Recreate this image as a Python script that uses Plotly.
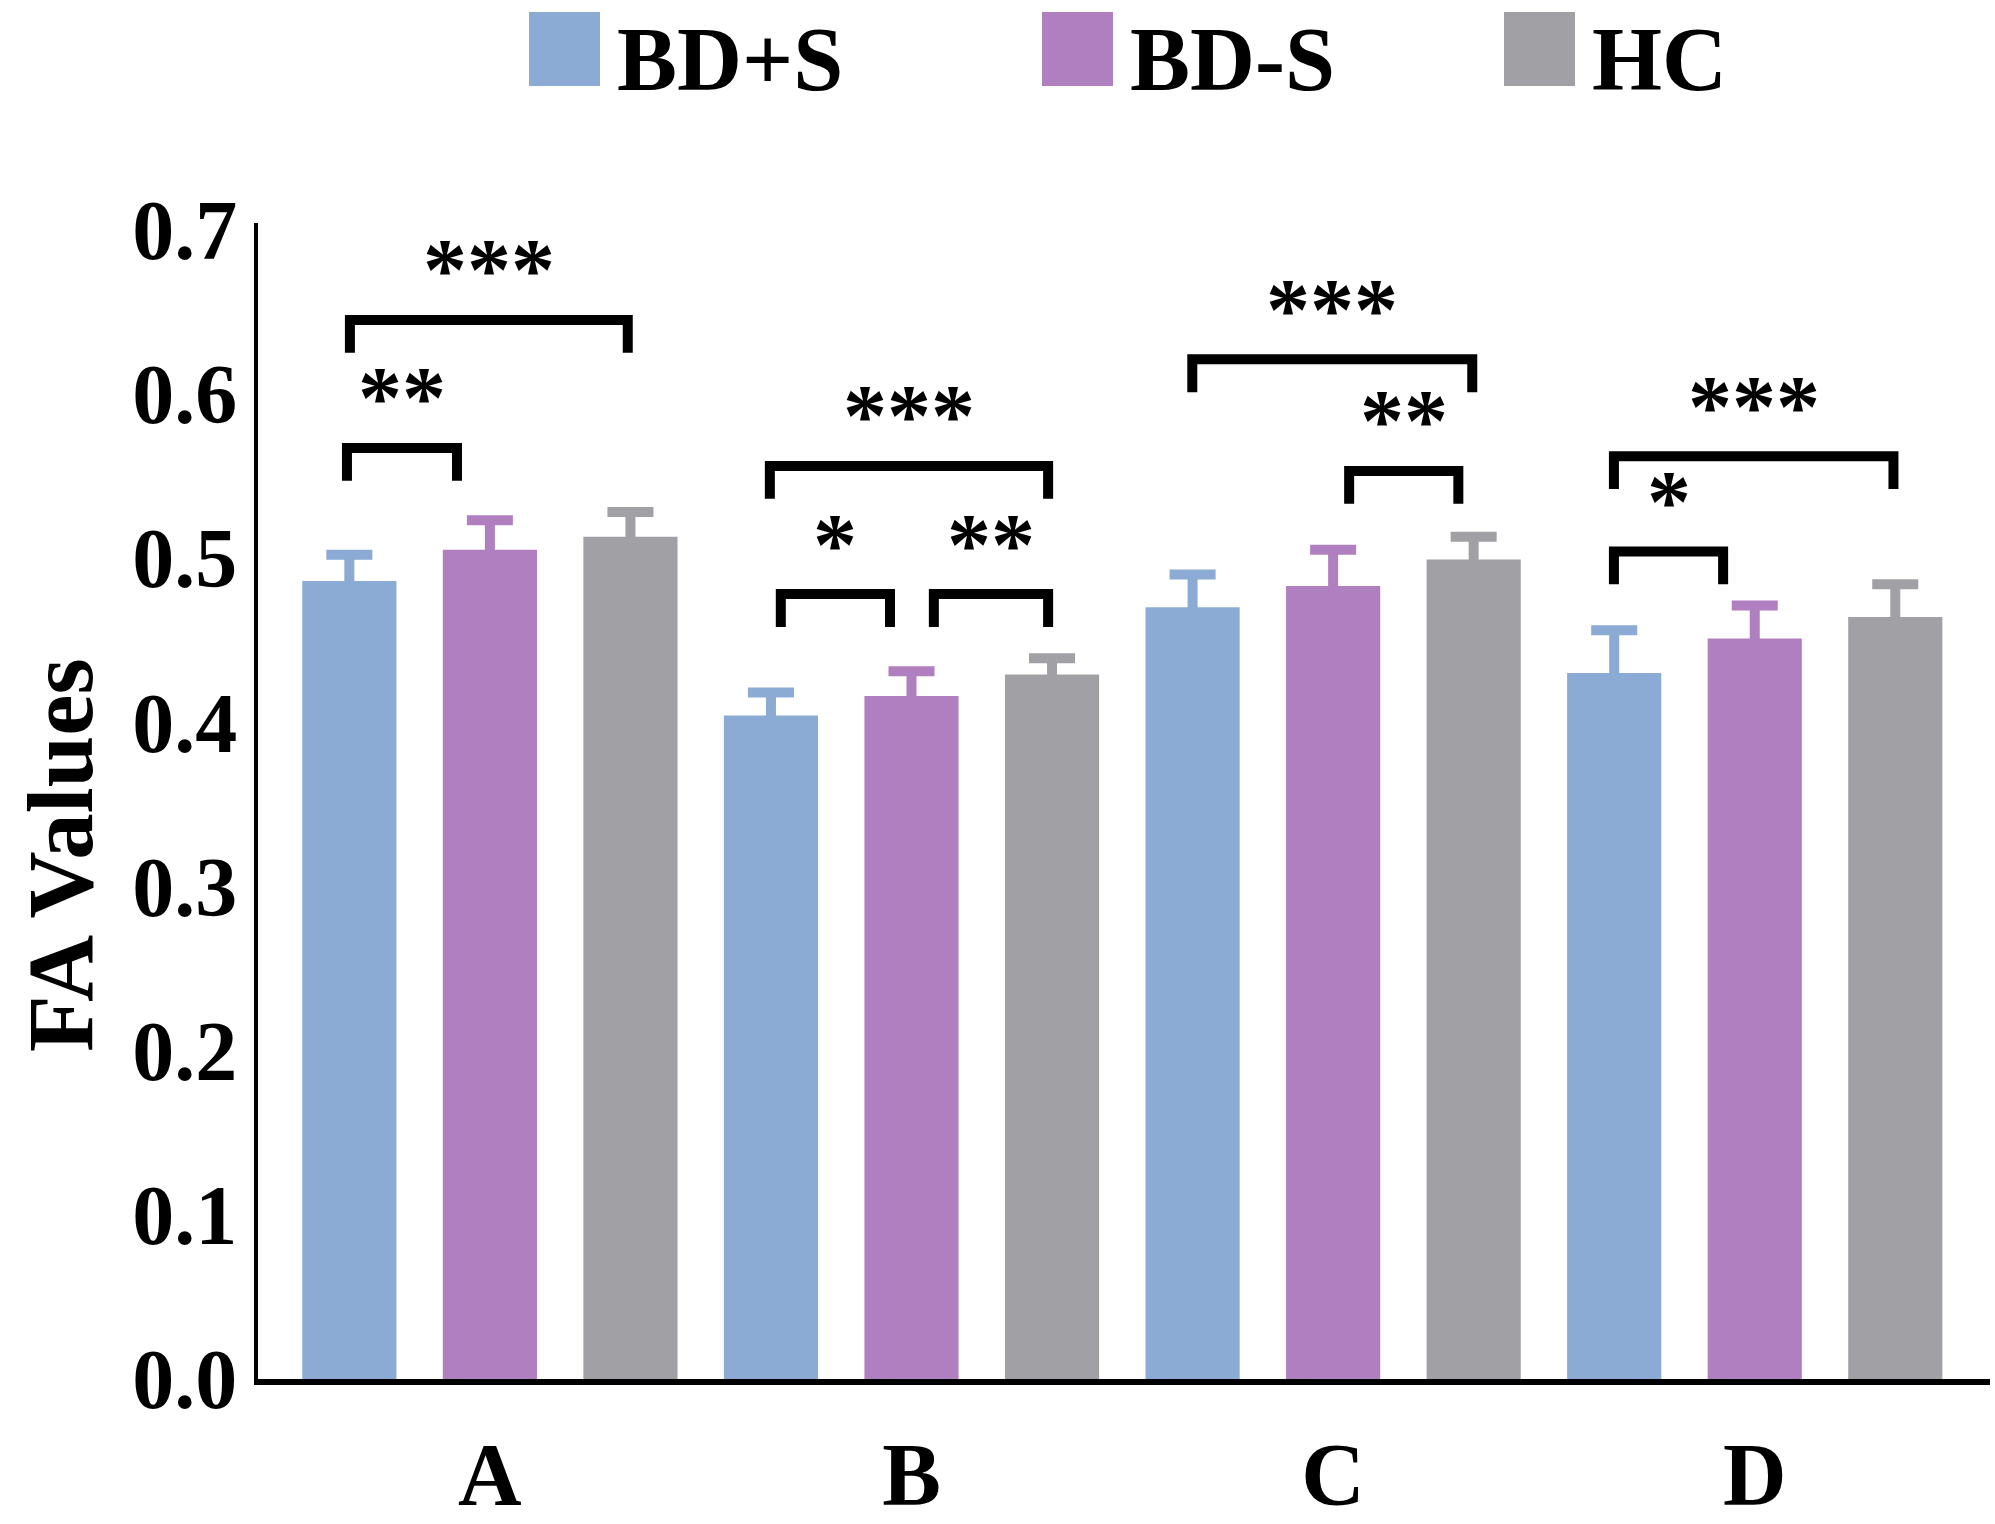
import plotly.graph_objects as go

W, H = 1995, 1524
ML, MR, MT, MB = 258, 5, 223, 145

groups = ["A", "B", "C", "D"]
series = ["BD+S", "BD-S", "HC"]
colors = ["#8BAAD4", "#B07FBF", "#A1A1A5"]

# mean FA values and error per group
bd_plus_s = [0.486, 0.404, 0.470, 0.430]
bd_plus_s_err = [0.016, 0.014, 0.020, 0.026]
bd_minus_s = [0.505, 0.416, 0.483, 0.451]
bd_minus_s_err = [0.018, 0.015, 0.022, 0.020]
hc = [0.513, 0.429, 0.499, 0.464]
hc_err = [0.015, 0.010, 0.014, 0.020]

y_ticks = [0.0, 0.1, 0.2, 0.3, 0.4, 0.5, 0.6, 0.7]

# significance brackets: group index, left end, right end (offset from group centre), height, stars
brackets = [
    (0, -0.339, -0.078, 0.567, "**"),
    (0, -0.332, 0.327, 0.645, "***"),
    (1, -0.336, 0.324, 0.556, "***"),
    (1, -0.310, -0.051, 0.478, "*"),
    (1, 0.053, 0.324, 0.478, "**"),
    (2, -0.334, 0.330, 0.621, "***"),
    (2, 0.038, 0.297, 0.553, "**"),
    (3, -0.334, 0.329, 0.562, "***"),
    (3, -0.334, -0.075, 0.504, "*"),
]
leg_drop = 0.02
star_gap = 0.039

FONT = "Liberation Serif"
xpos = list(range(len(groups)))

values = [bd_plus_s, bd_minus_s, hc]
errors = [bd_plus_s_err, bd_minus_s_err, hc_err]

fig = go.Figure()
for name, vals, errs, col in zip(series, values, errors, colors):
    # symmetric bars: the lower half sits inside the bar in the same colour
    fig.add_trace(go.Bar(
        x=xpos, y=vals, name=name, marker=dict(color=col, line=dict(width=0)),
        error_y=dict(type="data", array=errs, color=col, thickness=10, width=23),
        showlegend=False,
    ))

for g, x0, x1, yt, stars in brackets:
    a, b = g + x0, g + x1
    yb = yt - leg_drop
    fig.add_shape(type="path", xref="x", yref="y",
                  path=f"M {a},{yb} L {a},{yt} L {b},{yt} L {b},{yb}",
                  line=dict(color="black", width=10))
    fig.add_annotation(x=(a + b) / 2, y=yt + star_gap, text=stars, showarrow=False,
                       xanchor="center", yanchor="middle", yshift=-14,
                       font=dict(family=FONT, size=88, color="black", weight="bold"))

# manual legend at the top, positioned in pixels
pw, ph = W - ML - MR, H - MT - MB


def px_x(p):
    return (p - ML) / pw


def px_y(p):
    return (H - MB - p) / ph


legend_swatch_left = [529, 1042, 1504]
for name, col, left in zip(series, colors, legend_swatch_left):
    fig.add_shape(type="rect", xref="paper", yref="paper",
                  x0=px_x(left), x1=px_x(left + 71), y0=px_y(86), y1=px_y(12),
                  fillcolor=col, line=dict(width=0))
    fig.add_annotation(xref="paper", yref="paper", x=px_x(left + 86), y=px_y(59),
                       text=name, showarrow=False, xanchor="left", yanchor="middle",
                       font=dict(family=FONT, size=90, color="black", weight="bold"))

# y axis title, sits a little below the middle of the axis
fig.add_annotation(xref="paper", yref="paper", x=px_x(61), y=px_y(855),
                   text="FA Values", textangle=-90, showarrow=False,
                   xanchor="center", yanchor="middle",
                   font=dict(family=FONT, size=93, color="black", weight="bold"))

fig.update_layout(
    width=W, height=H,
    margin=dict(l=ML, r=MR, t=MT, b=MB),
    plot_bgcolor="white", paper_bgcolor="white",
    barmode="group", bargap=0, bargroupgap=0.33,
    font=dict(family=FONT, color="black"),
)
fig.update_xaxes(
    range=[-0.55, 3.558], tickvals=xpos, ticktext=groups,
    showline=True, linecolor="black", linewidth=6, ticks="",
    showgrid=False, zeroline=False, ticklabelstandoff=13, automargin=False,
    tickfont=dict(family=FONT, size=88, color="black", weight="bold"),
)
fig.update_yaxes(
    range=[0, 0.704], tickvals=y_ticks, tickformat=".1f",
    showline=True, linecolor="black", linewidth=4, ticks="",
    showgrid=False, zeroline=False, ticklabelstandoff=0, automargin=False,
    tickfont=dict(family=FONT, size=84, color="black", weight="bold"),
)

fig.write_html("out.html", post_script="document.body.style.margin = '0';",
               config={"displayModeBar": False})
